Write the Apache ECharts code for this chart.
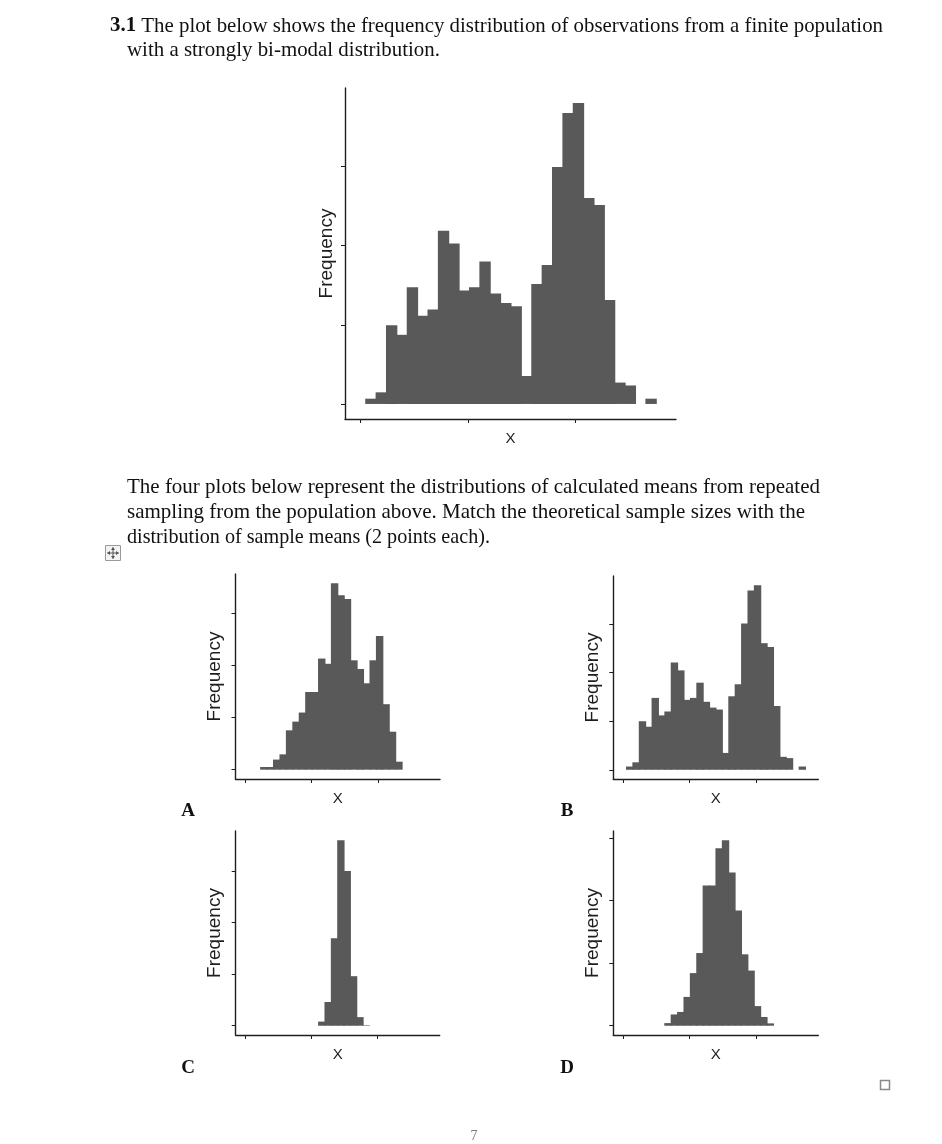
<!DOCTYPE html>
<html><head><meta charset="utf-8">
<script src="https://cdn.jsdelivr.net/npm/echarts@6/dist/echarts.min.js"></script>
<style>html,body{margin:0;padding:0;background:#fff}#c{width:942px;height:1144px}</style>
</head><body><div id="c"></div>
<script>
// ---- data (counts; y tick step = 15, x ticks at 0/10/20) ----
const xTicks = [0, 10, 20];
const yTicks = [0, 15, 30, 45];
const xRange = [-1.43, 29.35];

const populationCounts = [1.0, 2.2, 14.9, 13.1, 22.1, 16.7, 17.9, 32.8, 30.4, 21.5, 22.1, 27.0, 20.9, 19.1, 18.5, 5.3, 22.7, 26.3, 44.9, 55.1, 57.0, 39.0, 37.7, 19.7, 4.05, 3.5, 0, 1.0];
const populationBins = [0.497, 0.965]; // first bin start, bin width

const aCounts = [0.77, 0.77, 2.9, 4.4, 11.3, 13.8, 16.4, 22.3, 22.3, 31.9, 30.4, 53.5, 50.1, 49.0, 31.4, 28.9, 24.8, 31.4, 38.4, 18.8, 10.9, 2.3];
const aBins = [2.356, 0.968];

const bCounts = [1.0, 2.3, 15.0, 13.3, 22.2, 16.8, 18.0, 33.1, 30.7, 21.6, 22.2, 26.9, 21.0, 19.2, 18.6, 5.2, 22.7, 26.4, 45.2, 55.4, 57.0, 39.1, 37.9, 19.7, 4.0, 3.6, 0, 1.0];
const bBins = [0.55, 0.96];

const cCounts = [1.2, 6.9, 25.4, 53.9, 45.0, 14.4, 2.5, 0.15];
const cBins = [11.08, 0.96];

const dCounts = [0.63, 2.7, 3.3, 6.9, 12.6, 17.4, 33.6, 33.6, 42.5, 44.4, 36.7, 27.6, 17.1, 13.2, 4.7, 2.1, 0.56];
const dBins = [6.3, 0.96];

const panelLetters = ['A', 'B', 'C', 'D'];
const titleLines = [
  'The plot below shows the frequency distribution of observations from a finite population',
  'with a strongly bi-modal distribution.'
];
const bodyLines = [
  'The four plots below represent the distributions of calculated means from repeated',
  'sampling from the population above. Match the theoretical sample sizes with the',
  'distribution of sample means (2 points each).'
];

// ---- chart ----
const chart = echarts.init(document.getElementById('c'), null, {renderer: 'canvas'});
const BAR = '#595959', INK = '#1e1e1e';

const panels = [
  {counts: populationCounts, bins: populationBins, grid: {left: 345, top: 88, width: 331, height: 331}, yFont: 19, yGap: 9},
  {counts: aCounts, bins: aBins, grid: {left: 235.5, top: 574, width: 204.5, height: 205}, yFont: 19, yGap: 11},
  {counts: bCounts, bins: bBins, grid: {left: 613.3, top: 576, width: 205, height: 203}, yFont: 19, yGap: 11},
  {counts: cCounts, bins: cBins, grid: {left: 235.7, top: 831, width: 204, height: 204}, yFont: 19, yGap: 11},
  {counts: dCounts, bins: dBins, grid: {left: 613.3, top: 831, width: 205, height: 204}, yFont: 19, yGap: 11}
];

function renderBar(params, api) {
  const x0 = api.value(0), x1 = api.value(1), y = api.value(2);
  if (!y) return null;
  const p0 = api.coord([x0, 0]);
  const p1 = api.coord([x1, y]);
  // small horizontal overlap hides anti-aliasing seams between adjacent bins
  return {type: 'rect', shape: {x: p0[0] - 0.5, y: p1[1], width: p1[0] - p0[0] + 1, height: p0[1] - p1[1]},
          style: {fill: BAR}};
}

const grids = [], xAxes = [], yAxes = [], series = [];
panels.forEach((p, i) => {
  const maxV = Math.max(...p.counts);
  grids.push(Object.assign({containLabel: false}, p.grid));
  xAxes.push({
    type: 'value', gridIndex: i, min: xRange[0], max: xRange[1],
    name: 'X', nameLocation: 'middle', nameGap: 12,
    nameTextStyle: {fontFamily: 'Liberation Sans', fontSize: 15, color: INK},
    axisLine: {show: true, onZero: false, lineStyle: {color: INK, width: 1.4}},
    axisTick: {show: true, length: 4, customValues: xTicks, lineStyle: {color: INK, width: 1}},
    axisLabel: {show: false}, splitLine: {show: false}
  });
  yAxes.push({
    type: 'value', gridIndex: i, min: -0.05 * maxV, max: 1.05 * maxV,
    name: 'Frequency', nameLocation: 'middle', nameRotate: 90, nameGap: p.yGap,
    nameTextStyle: {fontFamily: 'Liberation Sans', fontSize: p.yFont, color: INK},
    axisLine: {show: true, onZero: false, lineStyle: {color: INK, width: 1.4}},
    axisTick: {show: true, length: 4, customValues: yTicks, lineStyle: {color: INK, width: 1}},
    axisLabel: {show: false}, splitLine: {show: false}
  });
  const data = p.counts.map((c, k) => [p.bins[0] + k * p.bins[1], p.bins[0] + (k + 1) * p.bins[1], c]);
  series.push({type: 'custom', xAxisIndex: i, yAxisIndex: i, renderItem: renderBar, data: data,
               encode: {x: [0, 1], y: 2}, silent: true, animation: false});
});

// text fitting helper
const mctx = document.createElement('canvas').getContext('2d');
function textW(font, s) { mctx.font = font; return mctx.measureText(s).width; }
const SERIF = '"Liberation Serif", "Times New Roman", serif';
const F = 21;
function lineEl(x, y, text, targetW, boldPrefix) {
  const fontN = F + 'px ' + SERIF, fontB = 'bold ' + F + 'px ' + SERIF;
  let w = textW(fontN, text);
  let t = text;
  const rich = {b: {fontFamily: SERIF, fontSize: F, fontWeight: 'bold', fill: '#111'}};
  if (boldPrefix) { w += textW(fontB, boldPrefix) + textW(fontN, ' '); t = '{b|' + boldPrefix + '} ' + text; }
  return {type: 'text', x: x, y: y, scaleX: targetW / w, silent: true,
          style: {text: t, x: 0, y: 0, fontFamily: SERIF, fontSize: F, fill: '#111',
                  verticalAlign: 'middle', align: 'left', rich: rich}};
}

const graphic = [
  lineEl(110, 26, titleLines[0], 773, '3.1'),
  lineEl(127, 50, titleLines[1], 313),
  lineEl(127, 487, bodyLines[0], 693),
  lineEl(127, 512, bodyLines[1], 678),
  lineEl(127, 537, bodyLines[2], 363)
];
const letterPos = [[188, 811], [567, 811], [188, 1068], [567, 1068]];
panelLetters.forEach((L, i) => graphic.push({type: 'text', x: letterPos[i][0], y: letterPos[i][1], silent: true,
  style: {text: L, fontFamily: SERIF, fontSize: 19, fontWeight: 'bold', fill: '#111', align: 'center', verticalAlign: 'middle'}}));
graphic.push({type: 'text', x: 474, y: 1136, silent: true,
  style: {text: '7', fontFamily: SERIF, fontSize: 14, fill: '#777', align: 'center', verticalAlign: 'middle'}});
// move handle icon
graphic.push({type: 'rect', silent: true, shape: {x: 105.5, y: 545.5, width: 15, height: 15},
  style: {fill: '#f3f3f3', stroke: '#9a9a9a', lineWidth: 1}});
graphic.push({type: 'line', silent: true, shape: {x1: 107.5, y1: 553, x2: 118.5, y2: 553}, style: {stroke: '#555', lineWidth: 1}});
graphic.push({type: 'line', silent: true, shape: {x1: 113, y1: 547.5, x2: 113, y2: 558.5}, style: {stroke: '#555', lineWidth: 1}});
[[107, 553, 110, 551, 110, 555], [119, 553, 116, 551, 116, 555], [113, 547, 111, 550, 115, 550], [113, 559, 111, 556, 115, 556]]
  .forEach(a => graphic.push({type: 'polygon', silent: true, shape: {points: [[a[0], a[1]], [a[2], a[3]], [a[4], a[5]]]}, style: {fill: '#555'}}));
// checkbox
graphic.push({type: 'rect', silent: true, shape: {x: 880.5, y: 1080.5, width: 9, height: 9},
  style: {fill: '#fff', stroke: '#8a8a8a', lineWidth: 1.5}});

chart.setOption({
  backgroundColor: '#ffffff', animation: false,
  grid: grids, xAxis: xAxes, yAxis: yAxes, series: series, graphic: graphic
});
</script></body></html>
